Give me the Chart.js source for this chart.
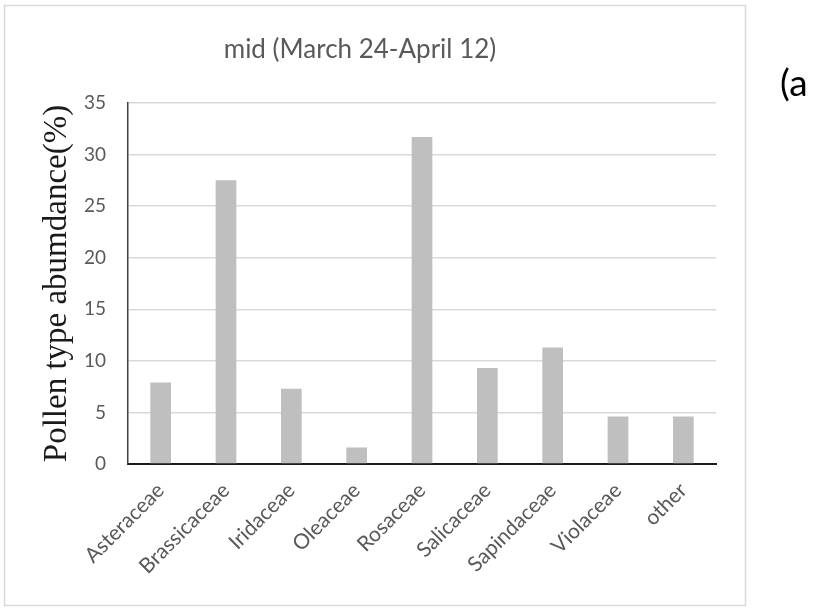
<!DOCTYPE html>
<html>
<head>
<meta charset="utf-8">
<script src="https://cdn.jsdelivr.net/npm/chart.js@4/dist/chart.umd.min.js"></script>
<style>
  html, body { margin: 0; padding: 0; background: #ffffff; }
  #wrap { position: relative; width: 820px; height: 608px; }
</style>
</head>
<body>
<div id="wrap"><canvas id="c" width="820" height="608"></canvas></div>
<script>
// Pollen families and their share of the mid-season sample (%)
const categories = ['Asteraceae', 'Brassicaceae', 'Iridaceae', 'Oleaceae', 'Rosaceae',
                    'Salicaceae', 'Sapindaceae', 'Violaceae', 'other'];
const abundance = [7.9, 27.5, 7.3, 1.6, 31.7, 9.3, 11.3, 4.6, 4.6];
const yTicks = [0, 5, 10, 15, 20, 25, 30, 35];
const chartTitle = 'mid (March 24-April 12)';
const yTitle = 'Pollen type abumdance(%)';
const panelTag = '(a';

const SANS = 'Lato, "Open Sans", sans-serif';
const SERIF = '"Liberation Serif", "DejaVu Serif", serif';

// Frame, chart title, vertical axis title and panel tag
const decorations = {
  id: 'decorations',
  beforeDraw(chart) {
    const ctx = chart.ctx;
    ctx.save();
    ctx.fillStyle = '#ffffff';
    ctx.fillRect(0, 0, chart.width, chart.height);
    ctx.strokeStyle = '#d9d9d9';
    ctx.lineWidth = 1.5;
    ctx.strokeRect(4.5, 5.5, 741, 600);
    ctx.restore();
  },
  afterDraw(chart) {
    const ctx = chart.ctx;
    const area = chart.chartArea;
    ctx.save();
    ctx.fillStyle = '#595959';
    ctx.font = '26px ' + SANS;
    ctx.textAlign = 'center';
    ctx.textBaseline = 'middle';
    ctx.fillText(chartTitle, 360, 50);

    // axis title, centred on the plot height
    ctx.save();
    ctx.translate(57, (area.top + area.bottom) / 2);
    ctx.rotate(-Math.PI / 2);
    ctx.fillStyle = '#1a1a1a';
    ctx.font = '33px ' + SERIF;
    ctx.textAlign = 'center';
    ctx.textBaseline = 'middle';
    ctx.fillText(yTitle, 0, 0);
    ctx.restore();

    ctx.fillStyle = '#000000';
    ctx.font = '37px ' + SANS;
    ctx.textAlign = 'left';
    ctx.textBaseline = 'middle';
    ctx.fillText(panelTag, 780, 84);
    ctx.restore();
  }
};

new Chart(document.getElementById('c'), {
  type: 'bar',
  data: {
    labels: categories,
    datasets: [{
      data: abundance,
      backgroundColor: '#bfbfbf',
      borderWidth: 0,
      barPercentage: 0.317,
      categoryPercentage: 1.0
    }]
  },
  options: {
    responsive: false,
    animation: false,
    layout: { padding: { left: 0, right: 104, top: 103, bottom: 0 } },
    plugins: {
      legend: { display: false },
      title: { display: false },
      tooltip: { enabled: false }
    },
    scales: {
      x: {
        grid: { display: false, drawTicks: false },
        border: { display: true, color: '#1a1a1a', width: 2 },
        ticks: {
          color: '#595959',
          font: { family: SANS, size: 21 },
          minRotation: 45,
          maxRotation: 45,
          padding: 14,
          autoSkip: false
        },
        afterFit(scale) { scale.height = 144; }
      },
      y: {
        min: 0,
        max: 35,
        afterBuildTicks(scale) { scale.ticks = yTicks.map(v => ({ value: v })); },
        grid: { color: '#d9d9d9', lineWidth: 1.5, drawTicks: false },
        border: { display: true, color: '#404040', width: 1.5 },
        ticks: {
          color: '#595959',
          font: { family: SANS, size: 19 },
          padding: 22
        },
        afterFit(scale) { scale.width = 128; }
      }
    }
  },
  plugins: [decorations]
});
</script>
</body>
</html>
